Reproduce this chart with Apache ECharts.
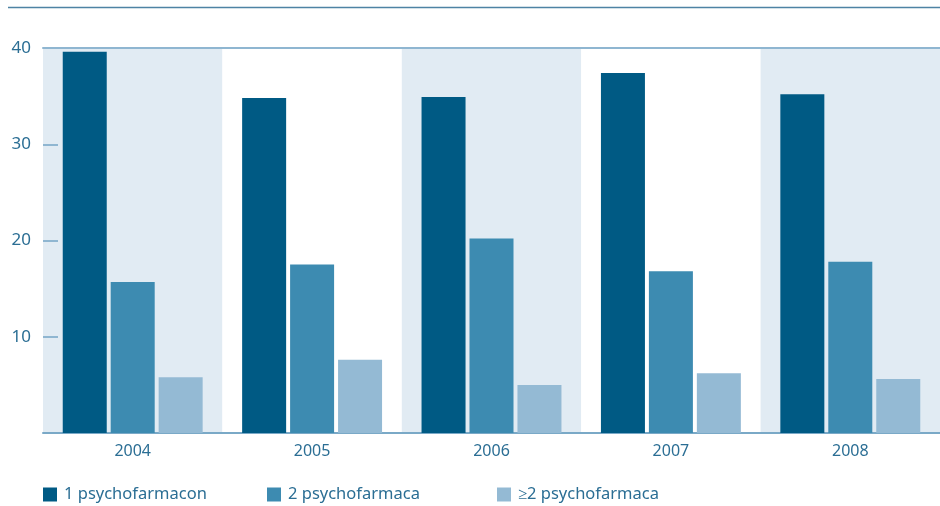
<!DOCTYPE html>
<html><head><meta charset="utf-8">
<script src="https://cdn.jsdelivr.net/npm/echarts@6/dist/echarts.min.js"></script>
<style>html,body{margin:0;padding:0;background:#fff}#c{width:940px;height:506px}</style>
</head><body><div id="c"></div>
<script>
const categories = ['2004','2005','2006','2007','2008'];
const seriesNames = ['1 psychofarmacon','2 psychofarmaca','\u22652 psychofarmaca'];
const one = [39.6, 34.8, 34.9, 37.4, 35.2];
const two = [15.7, 17.5, 20.2, 16.8, 17.8];
const twoPlus = [5.8, 7.6, 5.0, 6.2, 5.6];
const colors = ['#005a84', '#3d8bb1', '#94bad4'];
const textColor = '#2b6e94';
const font = 'Noto Sans';

const chart = echarts.init(document.getElementById('c'));
function mkLegend(i, left) {
  return { left: left, top: 481, itemWidth: 14, itemHeight: 14, icon: 'rect', selectedMode: false,
    itemGap: 0, data: [seriesNames[i]], textStyle: { color: textColor, fontSize: 16.5, fontFamily: font, padding: [0,0,0,2] } };
}
chart.setOption({
  animation: false,
  color: colors,
  grid: { left: 43, right: 0, top: 48, bottom: 73 },
  legend: [mkLegend(0, 38), mkLegend(1, 262), mkLegend(2, 492)],
  graphic: [{ type: 'line', shape: { x1: 8, y1: 7.5, x2: 940, y2: 7.5 }, style: { stroke: '#4e83a4', lineWidth: 1.5 } }],
  xAxis: [{
    type: 'category', data: categories, boundaryGap: true,
    axisLine: { lineStyle: { color: '#7aa9c7', width: 2 } },
    axisTick: { inside: true, length: 7, lineStyle: { color: '#7aa9c7', width: 1.5 } },
    axisLabel: { color: textColor, fontSize: 16, fontFamily: font, margin: 10 },
    splitArea: { show: true, areaStyle: { color: ['#e1ebf3', '#ffffff'] } },
    splitLine: { show: false }
  }, {
    type: 'category', data: categories, position: 'top',
    axisLine: { lineStyle: { color: '#8fb6d1', width: 2 } },
    axisTick: { show: false }, axisLabel: { show: false }
  }],
  yAxis: {
    type: 'value', min: 0, max: 40, interval: 10,
    axisLine: { show: false },
    axisTick: { show: true, inside: true, length: 15, lineStyle: { color: '#8fb6d1', width: 2 } },
    axisLabel: { color: textColor, fontSize: 17, fontFamily: font, margin: 12, showMinLabel: false },
    splitLine: { show: false }
  },
  series: [
    { name: seriesNames[0], type: 'bar', data: one, barWidth: 44, barGap: '9%' },
    { name: seriesNames[1], type: 'bar', data: two, barWidth: 44, barGap: '9%' },
    { name: seriesNames[2], type: 'bar', data: twoPlus, barWidth: 44, barGap: '9%' }
  ]
});
</script></body></html>
